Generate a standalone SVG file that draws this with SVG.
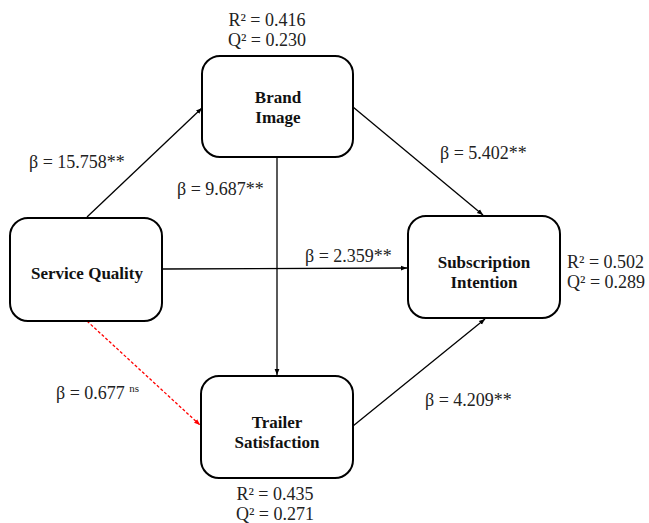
<svg xmlns="http://www.w3.org/2000/svg" width="649" height="523" viewBox="0 0 649 523">
<style>
text{font-family:"Liberation Serif","Times New Roman",serif;font-size:18px;fill:#222}
.node{font-weight:bold;text-anchor:middle;fill:#111;font-size:17px}
.box{fill:#fff;stroke:#000;stroke-width:2}
.c{stroke:#000;stroke-width:1.3;fill:none}
.r{stroke:#f00;stroke-width:1.3;stroke-dasharray:3,2;fill:none}
.m{text-anchor:middle}
</style>
<defs>
<marker id="ab" viewBox="0 0 10 10" refX="10" refY="5" markerWidth="6" markerHeight="6" orient="auto" markerUnits="userSpaceOnUse"><path d="M0,1 L10,5 L0,9 z" fill="#000"/></marker>
<marker id="ar" viewBox="0 0 10 10" refX="10" refY="5" markerWidth="6" markerHeight="6" orient="auto" markerUnits="userSpaceOnUse"><path d="M0,1 L10,5 L0,9 z" fill="#f00"/></marker>
</defs>
<g id="connectors">
<line class="c" x1="87" y1="217" x2="202" y2="108" marker-end="url(#ab)"/>
<line class="c" x1="353" y1="107" x2="483" y2="215" marker-end="url(#ab)"/>
<line class="c" x1="162" y1="269" x2="407" y2="268" marker-end="url(#ab)"/>
<line class="c" x1="277" y1="157" x2="277" y2="375" marker-end="url(#ab)"/>
<line class="r" x1="87" y1="321" x2="200" y2="425" marker-end="url(#ar)"/>
<line class="c" x1="353" y1="426" x2="485" y2="319" marker-end="url(#ab)"/>
<text x="29" y="168">β = 15.758**</text>
<text x="177" y="195">β = 9.687**</text>
<text x="440" y="159">β = 5.402**</text>
<text x="305" y="262">β = 2.359**</text>
<text x="56" y="399">β = 0.677 <tspan font-size="11" dy="-7">ns</tspan></text>
<text x="425" y="406">β = 4.209**</text>
</g>
<g id="brand">
<rect class="box" x="202" y="56" width="151" height="101" rx="18"/>
<text class="node" x="278" y="103">Brand</text>
<text class="node" x="278" y="123">Image</text>
<text class="m" x="267" y="26">R² = 0.416</text>
<text class="m" x="267" y="46">Q² = 0.230</text>
</g>
<g id="service">
<rect class="box" x="10" y="218" width="152" height="103" rx="18"/>
<text class="node" x="87" y="279">Service Quality</text>
</g>
<g id="subscription">
<rect class="box" x="408" y="216" width="152" height="102" rx="18"/>
<text class="node" x="484" y="268">Subscription</text>
<text class="node" x="484" y="288">Intention</text>
<text x="567" y="268">R² = 0.502</text>
<text x="567" y="288">Q² = 0.289</text>
</g>
<g id="trailer">
<rect class="box" x="201" y="376" width="152" height="102" rx="18"/>
<text class="node" x="277" y="428">Trailer</text>
<text class="node" x="277" y="448">Satisfaction</text>
<text class="m" x="275" y="500">R² = 0.435</text>
<text class="m" x="275" y="520">Q² = 0.271</text>
</g>
</svg>
